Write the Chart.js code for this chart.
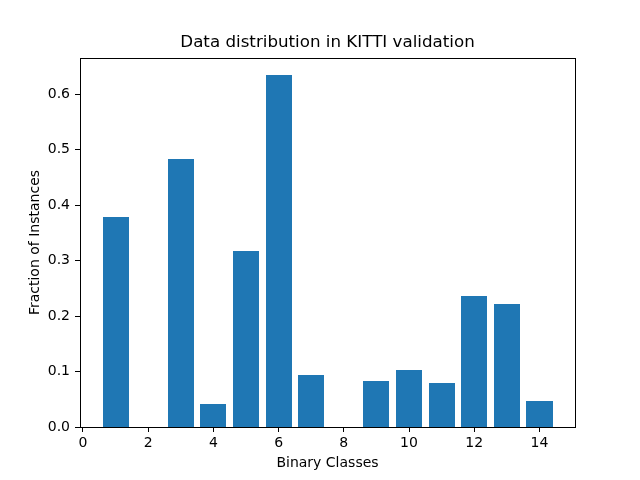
<!DOCTYPE html>
<html>
<head>
<meta charset="utf-8">
<script src="https://cdn.jsdelivr.net/npm/chart.js@4.4.1/dist/chart.umd.min.js"></script>
<style>
html,body{margin:0;padding:0;background:#fff;}
#wrap{width:640px;height:480px;}
</style>
</head>
<body>
<div id="wrap"><canvas id="c" width="640" height="480"></canvas></div>
<script>
const classes = [1,2,3,4,5,6,7,8,9,10,11,12,13,14];
const fractions = [0.378,0,0.483,0.041,0.317,0.634,0.094,0,0.083,0.103,0.079,0.236,0.222,0.047];
const xTicks = [0,2,4,6,8,10,12,14];
const yTicks = [0.0,0.1,0.2,0.3,0.4,0.5,0.6];

const font = "'DejaVu Sans', sans-serif";
const frame = {
  id: 'frame',
  beforeDatasetsDraw(chart){
    chart.getDatasetMeta(0).data.forEach(el => {
      const l = Math.round(el.x - el.width/2), r = Math.round(el.x + el.width/2);
      el.x = (l + r) / 2; el.width = r - l;
      el.y = Math.round(el.y); el.base = Math.round(el.base);
    });
  },
  afterDraw(chart){
    const {ctx, chartArea:a} = chart;
    ctx.save();
    ctx.strokeStyle = '#000';
    ctx.lineWidth = 1;
    ctx.strokeRect(Math.round(a.left)+0.5, Math.round(a.top)+0.5, Math.round(a.right-a.left), Math.round(a.bottom-a.top));
    ctx.restore();
  }
};

new Chart(document.getElementById('c'), {
  type: 'bar',
  data: {
    datasets: [{
      data: classes.map((c,i)=>({x:c, y:fractions[i]})),
      backgroundColor: '#1f77b4',
      borderWidth: 0,
      inflateAmount: 0,
      barPercentage: 0.8,
      categoryPercentage: 1.0
    }]
  },
  options: {
    responsive: false,
    animation: false,
    layout: {padding: {left: 0, right: 65, top: 0, bottom: 0}},
    plugins: {
      legend: {display: false},
      tooltip: {enabled: false},
      title: {
        display: true,
        fullSize: false,
        text: 'Data distribution in KITTI validation',
        color: '#000',
        font: {family: font, size: 16.7, weight: 'normal'},
        padding: {top: 33, bottom: 5}
      }
    },
    scales: {
      x: {
        type: 'linear',
        min: -0.09,
        max: 15.09,
        offset: false,
        afterBuildTicks: s => { s.ticks = xTicks.map(v=>({value:v})); },
        afterFit: s => { s.height = 53; },
        grid: {display: true, drawOnChartArea: false, drawTicks: true, tickLength: 5, color: '#000', offset: false},
        border: {display: false},
        ticks: {color: '#000', font: {family: font, size: 14}, padding: 3, maxRotation: 0, autoSkip: false},
        title: {display: true, text: 'Binary Classes', color: '#000', font: {family: font, size: 14}, padding: {top: 4, bottom: 8}}
      },
      y: {
        type: 'linear',
        min: 0,
        max: 0.665,
        afterBuildTicks: s => { s.ticks = yTicks.map(v=>({value:v})); },
        afterFit: s => { s.width = 80; },
        grid: {display: true, drawOnChartArea: false, drawTicks: true, tickLength: 5, color: '#000'},
        border: {display: false},
        ticks: {color: '#000', font: {family: font, size: 14}, padding: 5, callback: v => Number(v).toFixed(1)},
        title: {display: true, text: 'Fraction of Instances', color: '#000', font: {family: font, size: 14}, padding: {top: 27, bottom: 4}}
      }
    }
  },
  plugins: [frame]
});
</script>
</body>
</html>
